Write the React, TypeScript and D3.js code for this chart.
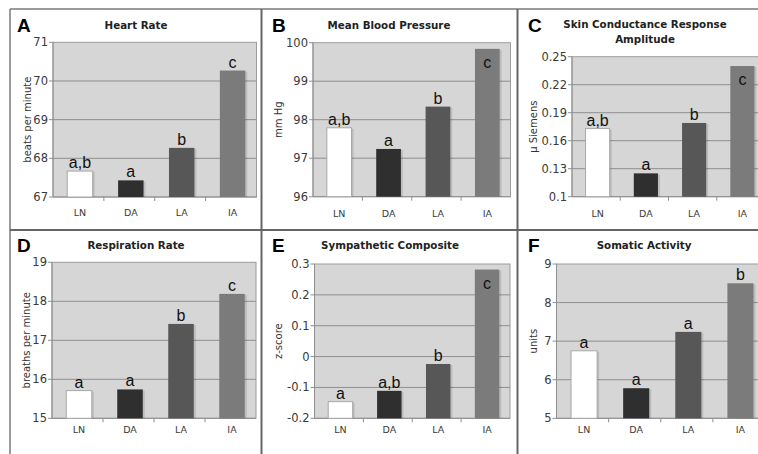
import React from "react";
import * as d3 from "d3";

// ---------- DATA ----------
const categories = ["LN", "DA", "LA", "IA"];

const heartRate = [67.67, 67.43, 68.27, 70.27];
const heartRateSig = ["a,b", "a", "b", "c"];
const heartRateTicks = [67, 68, 69, 70, 71];

const bloodPressure = [97.79, 97.24, 98.34, 99.84];
const bloodPressureSig = ["a,b", "a", "b", "c"];
const bloodPressureTicks = [96, 97, 98, 99, 100];

const scrAmplitude = [0.173, 0.125, 0.179, 0.24];
const scrAmplitudeSig = ["a,b", "a", "b", "c"];
const scrAmplitudeTicks = [0.1, 0.13, 0.16, 0.19, 0.22, 0.25];

const respiration = [15.71, 15.74, 17.42, 18.19];
const respirationSig = ["a", "a", "b", "c"];
const respirationTicks = [15, 16, 17, 18, 19];

const sympathetic = [-0.146, -0.111, -0.024, 0.282];
const sympatheticSig = ["a", "a,b", "b", "c"];
const sympatheticTicks = [-0.2, -0.1, 0, 0.1, 0.2, 0.3];

const somatic = [6.75, 5.78, 7.24, 8.5];
const somaticSig = ["a", "a", "a", "b"];
const somaticTicks = [5, 6, 7, 8, 9];

const panelLetters = ["A", "B", "C", "D", "E", "F"];
const panelTitles = [
  ["Heart Rate"],
  ["Mean Blood Pressure"],
  ["Skin Conductance Response", "Amplitude"],
  ["Respiration Rate"],
  ["Sympathetic Composite"],
  ["Somatic Activity"],
];
const yTitles = ["beats per minute", "mm Hg", "\u03bc Siemens", "breaths per minute", "z-score", "units"];

// ---------- LAYOUT (positions only) ----------
const layout = [
  { x0: 53, x1: 256.5, y0: 42.3, y1: 197, tx: 136, ty: [29], lx: 17, ly: 32, yt: 31, catDy: 19 },
  { x0: 313, x1: 510.5, y0: 42.7, y1: 196.7, tx: 389, ty: [29], lx: 272, ly: 32, yt: 282, catDy: 20 },
  { x0: 572, x1: 765, y0: 56.7, y1: 196.7, tx: 645, ty: [28, 43], lx: 528, ly: 32, yt: 537, catDy: 20 },
  { x0: 52, x1: 256, y0: 262.3, y1: 418.3, tx: 136, ty: [249], lx: 17, ly: 252, yt: 30, catDy: 15 },
  { x0: 314.5, x1: 510, y0: 264, y1: 418.3, tx: 390, ty: [249], lx: 272, ly: 252, yt: 282, catDy: 15 },
  { x0: 556.5, x1: 765, y0: 264, y1: 418.3, tx: 644, ty: [249], lx: 528, ly: 252, yt: 537, catDy: 15 },
];

const seriesList = [heartRate, bloodPressure, scrAmplitude, respiration, sympathetic, somatic];
const sigList = [heartRateSig, bloodPressureSig, scrAmplitudeSig, respirationSig, sympatheticSig, somaticSig];
const tickList = [heartRateTicks, bloodPressureTicks, scrAmplitudeTicks, respirationTicks, sympatheticTicks, somaticTicks];

const barColors = ["#ffffff", "#2f2f2f", "#575757", "#7b7b7b"];
const tickFont = "'DejaVu Sans', Verdana, sans-serif";
const letterFont = "'Liberation Sans', Arial, sans-serif";

function fmt(v: number) {
  return String(+v.toFixed(2));
}

function Panel({ i }: { i: number }) {
  const L = layout[i];
  const values = seriesList[i];
  const sig = sigList[i];
  const ticks = tickList[i];
  const x = d3.scaleBand<string>().domain(categories).range([L.x0, L.x1]).paddingInner(0.5).paddingOuter(0.25);
  const y = d3.scaleLinear().domain([ticks[0], ticks[ticks.length - 1]]).range([L.y1, L.y0]);
  const bw = x.bandwidth();
  const step = x.step();
  const shift = 1.5;
  const boundaries = d3.range(1, categories.length).map((k) => L.x0 + k * step);
  const yMid = (L.y0 + L.y1) / 2;
  return (
    <g>
      <text x={L.lx} y={L.ly} fontFamily={letterFont} fontWeight="bold" fontSize={19} fill="#000">
        {panelLetters[i]}
      </text>
      {panelTitles[i].map((t, k) => (
        <text key={k} x={L.tx} y={L.ty[k]} textAnchor="middle" fontFamily={tickFont} fontWeight="bold" fontSize={10.3} fill="#222">
          {t}
        </text>
      ))}
      <rect x={L.x0} y={L.y0} width={L.x1 - L.x0} height={L.y1 - L.y0} fill="#d6d6d6" stroke="#9c9c9c" strokeWidth={1} />
      {ticks.map((t, k) => (
        <g key={k}>
          {k > 0 && k < ticks.length - 1 && (
            <line x1={L.x0} x2={L.x1} y1={y(t)} y2={y(t)} stroke="#8f8f8f" strokeWidth={1} />
          )}
          <line x1={L.x0 - 4} x2={L.x0} y1={y(t)} y2={y(t)} stroke="#8f8f8f" strokeWidth={1} />
          <text x={L.x0 - 5} y={y(t)} dy="0.35em" textAnchor="end" fontFamily={tickFont} fontSize={11.5} fill="#3a3a3a">
            {fmt(t)}
          </text>
        </g>
      ))}
      {boundaries.map((bx, k) => (
        <line key={k} x1={bx} x2={bx} y1={L.y1} y2={L.y1 + 4} stroke="#8f8f8f" strokeWidth={1} />
      ))}
      <line x1={L.x0} x2={L.x1} y1={L.y1} y2={L.y1} stroke="#8f8f8f" strokeWidth={1} />
      <line x1={L.x0} x2={L.x0} y1={L.y0} y2={L.y1} stroke="#8f8f8f" strokeWidth={1} />
      {categories.map((c, k) => {
        const bx = (x(c) as number) + shift;
        const top = y(values[k]);
        const inside = top - L.y0 < 15;
        return (
          <g key={c}>
            <rect x={bx + 2} y={top + 1} width={bw} height={L.y1 - top - 1} fill="#000" opacity={0.12} />
            <rect
              x={bx}
              y={top}
              width={bw}
              height={L.y1 - top}
              fill={barColors[k]}
              stroke={k === 0 ? "#a8a8a8" : "none"}
              strokeWidth={1}
            />
            <text
              x={bx + bw / 2}
              y={inside ? top + 19 : top - 3}
              textAnchor="middle"
              fontFamily={letterFont}
              fontSize={16}
              fill="#111"
            >
              {sig[k]}
            </text>
            <text x={bx + bw / 2} y={L.y1 + L.catDy} textAnchor="middle" fontFamily={tickFont} fontSize={9.5} fill="#3a3a3a">
              {c}
            </text>
          </g>
        );
      })}
      <text
        transform={`translate(${L.yt},${yMid}) rotate(-90)`}
        textAnchor="middle"
        fontFamily={tickFont}
        fontSize={10}
        fill="#333"
      >
        {yTitles[i]}
      </text>
    </g>
  );
}

export default function App() {
  return (
    <svg
      width={758}
      height={454}
      style={{ position: "absolute", left: 0, top: 0, background: "#fff" }}
    >
      <rect x={0} y={0} width={758} height={454} fill="#fff" />
      {layout.map((_, i) => (
        <Panel key={i} i={i} />
      ))}
      {/* frame */}
      <line x1={10} x2={758} y1={9} y2={9} stroke="#7a7a7a" strokeWidth={1.5} />
      <line x1={10} x2={10} y1={9} y2={454} stroke="#7a7a7a" strokeWidth={1.5} />
      <line x1={10} x2={758} y1={230} y2={230} stroke="#666" strokeWidth={2} />
      <line x1={261.5} x2={261.5} y1={9} y2={454} stroke="#666" strokeWidth={2} />
      <line x1={517.5} x2={517.5} y1={9} y2={454} stroke="#666" strokeWidth={2} />
    </svg>
  );
}
